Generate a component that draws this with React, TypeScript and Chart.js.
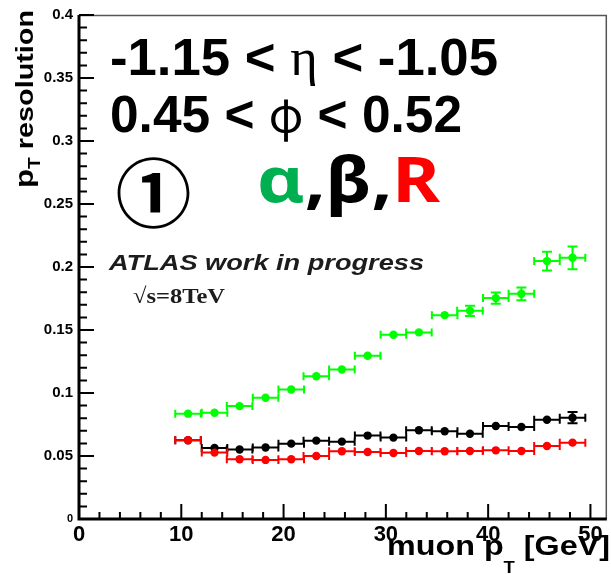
import React, { useEffect, useRef } from 'react';
import { Chart, registerables } from 'chart.js';

Chart.register(...registerables);

// ---- data ----
const binCenters = [10.66, 13.25, 15.7, 18.24, 20.75, 23.2, 25.7, 28.22, 30.74, 33.23, 35.75, 38.22, 40.75, 43.25, 45.75, 48.25];
const binHalfWidths = [1.25, 1.25, 1.25, 1.25, 1.25, 1.25, 1.25, 1.25, 1.25, 1.25, 1.25, 1.25, 1.25, 1.25, 1.25, 1.25];

const alphaRes = [0.0836, 0.0843, 0.0896, 0.0962, 0.1028, 0.1133, 0.1186, 0.1296, 0.1462, 0.1481, 0.1618, 0.1652, 0.1753, 0.1787, 0.2047, 0.2073];
const alphaErr = [0.002, 0.002, 0.002, 0.002, 0.002, 0.002, 0.002, 0.002, 0.0025, 0.0025, 0.003, 0.004, 0.0045, 0.005, 0.0075, 0.009];

const betaRes = [0.0625, 0.0563, 0.0551, 0.0567, 0.0598, 0.0622, 0.0614, 0.0662, 0.0646, 0.0704, 0.0696, 0.0677, 0.0738, 0.073, 0.0788, 0.0804];
const betaErr = [0.0015, 0.0015, 0.0015, 0.0015, 0.0015, 0.0015, 0.0015, 0.0015, 0.0015, 0.0015, 0.0015, 0.0015, 0.002, 0.002, 0.002, 0.0045];

const rRes = [0.0625, 0.0527, 0.0474, 0.0469, 0.0474, 0.05, 0.0538, 0.0532, 0.0524, 0.054, 0.0538, 0.054, 0.0545, 0.054, 0.0579, 0.0606];
const rErr = [0.0015, 0.0015, 0.0015, 0.0015, 0.0015, 0.0015, 0.0015, 0.0015, 0.0015, 0.0015, 0.0015, 0.0015, 0.0015, 0.0015, 0.002, 0.0025];

const xTickLabels = ['0', '10', '20', '30', '40', '50'];
const yTickLabels = ['0', '0.05', '0.1', '0.15', '0.2', '0.25', '0.3', '0.35', '0.4'];

const SANS = '"Liberation Sans", Arial, sans-serif';
const SERIF = '"Liberation Serif", "Times New Roman", serif';

type Seg = { t: string; font: string; color?: string; dy?: number };

function drawRich(ctx: CanvasRenderingContext2D, segs: Seg[], x: number, y: number, width: number, angle = 0) {
  ctx.save();
  let natural = 0;
  const widths = segs.map((s) => {
    ctx.font = s.font;
    const w = ctx.measureText(s.t).width;
    natural += w;
    return w;
  });
  ctx.translate(x, y);
  if (angle) ctx.rotate(angle);
  ctx.scale(width / natural, 1);
  ctx.textBaseline = 'alphabetic';
  ctx.textAlign = 'left';
  let cx = 0;
  segs.forEach((s, i) => {
    ctx.font = s.font;
    ctx.fillStyle = s.color || '#000';
    ctx.fillText(s.t, cx, s.dy || 0);
    cx += widths[i];
  });
  ctx.restore();
}

function drawInBox(ctx: CanvasRenderingContext2D, text: string, weight: string, family: string, x0: number, y0: number, x1: number, y1: number, color: string) {
  ctx.save();
  ctx.font = `${weight} 100px ${family}`;
  const m = ctx.measureText(text);
  const inkW = m.actualBoundingBoxLeft + m.actualBoundingBoxRight;
  const inkH = m.actualBoundingBoxAscent + m.actualBoundingBoxDescent;
  const sy = (y1 - y0) / inkH;
  const size = 100 * sy;
  const sx = (x1 - x0) / (inkW * sy);
  ctx.font = `${weight} ${size}px ${family}`;
  ctx.translate(x0, y0);
  ctx.scale(sx, 1);
  ctx.fillStyle = color;
  ctx.textBaseline = 'alphabetic';
  ctx.textAlign = 'left';
  ctx.fillText(text, m.actualBoundingBoxLeft * sy, m.actualBoundingBoxAscent * sy);
  ctx.restore();
}

const framePlugin = {
  id: 'frameTicks',
  beforeDatasetsDraw(chart: any) {
    const { ctx, chartArea: a, scales } = chart;
    const x = scales.x;
    const y = scales.y;
    ctx.save();
    // thin top / right frame
    ctx.strokeStyle = '#555';
    ctx.lineWidth = 1.5;
    ctx.beginPath();
    ctx.moveTo(a.left, a.top + 0.5);
    ctx.lineTo(a.right - 0.5, a.top + 0.5);
    ctx.lineTo(a.right - 0.5, a.bottom);
    ctx.stroke();
    // ticks
    ctx.strokeStyle = '#000';
    ctx.lineWidth = 2;
    ctx.beginPath();
    y.ticks.forEach((t: any) => {
      const py = y.getPixelForValue(t.value);
      const major = Math.round(t.value * 100) % 5 === 0;
      ctx.moveTo(a.left, py);
      ctx.lineTo(a.left + (major ? 15 : 8), py);
    });
    x.ticks.forEach((t: any) => {
      const px = x.getPixelForValue(t.value);
      const major = Math.round(t.value) % 10 === 0;
      ctx.moveTo(px, a.bottom);
      ctx.lineTo(px, a.bottom - (major ? 15 : 7));
    });
    ctx.stroke();
    // main axes
    ctx.lineWidth = 3;
    ctx.beginPath();
    ctx.moveTo(a.left, a.top);
    ctx.lineTo(a.left, a.bottom);
    ctx.lineTo(a.right, a.bottom);
    ctx.stroke();
    ctx.restore();
  },
};

const errorBarPlugin = {
  id: 'errorBars',
  beforeDatasetDraw(chart: any, args: any) {
    const ds = chart.data.datasets[args.index];
    const { ctx, scales } = chart;
    const x = scales.x;
    const y = scales.y;
    ctx.save();
    ctx.strokeStyle = ds.backgroundColor;
    ctx.lineWidth = 2;
    ctx.beginPath();
    ds.data.forEach((p: any) => {
      const px = x.getPixelForValue(p.x);
      const py = y.getPixelForValue(p.y);
      const x0 = x.getPixelForValue(p.x - p.xErr);
      const x1 = x.getPixelForValue(p.x + p.xErr);
      ctx.moveTo(x0, py);
      ctx.lineTo(x1, py);
      ctx.moveTo(x0, py - 4);
      ctx.lineTo(x0, py + 4);
      ctx.moveTo(x1, py - 4);
      ctx.lineTo(x1, py + 4);
      const y0 = y.getPixelForValue(p.y - p.yErr);
      const y1 = y.getPixelForValue(p.y + p.yErr);
      if (Math.abs(y1 - py) > 4.5) {
        ctx.moveTo(px, y0);
        ctx.lineTo(px, y1);
        ctx.moveTo(px - 5, y0);
        ctx.lineTo(px + 5, y0);
        ctx.moveTo(px - 5, y1);
        ctx.lineTo(px + 5, y1);
      }
    });
    ctx.stroke();
    ctx.restore();
  },
};

const textPlugin = {
  id: 'annotations',
  afterDraw(chart: any) {
    const ctx: CanvasRenderingContext2D = chart.ctx;
    const B52 = `bold 52px ${SANS}`;
    const G52 = `52px ${SERIF}`;
    const P52 = `46px "Noto Sans CJK JP", ${SANS}`;
    drawRich(ctx, [{ t: '-1.15 < ', font: B52 }, { t: 'η', font: G52 }, { t: ' < -1.05', font: B52 }], 110, 75, 388);
    drawRich(ctx, [{ t: '0.45 < ', font: B52 }, { t: 'φ', font: P52 }, { t: ' < 0.52', font: B52 }], 110, 132, 352);
    drawInBox(ctx, '①', 'bold', '"Noto Sans CJK SC"', 117, 157, 190, 228, '#000');
    const B62 = `bold 62px "Noto Sans", ${SANS}`;
    drawRich(ctx, [
      { t: 'α', font: B62, color: '#00b050' },
      { t: ',β,', font: B62, color: '#000' },
      { t: 'R', font: B62, color: '#ff0000' },
    ], 257, 202, 183);
    drawRich(ctx, [{ t: 'ATLAS work in progress', font: `italic bold 22px ${SANS}`, color: '#1c1c1c' }], 109, 270, 315);
    drawRich(ctx, [{ t: '√s=8TeV', font: `bold 22px ${SERIF}`, color: '#1c1c1c' }], 133, 303, 92);
    // axis titles
    drawRich(ctx, [
      { t: 'muon p', font: `bold 28px ${SANS}` },
      { t: 'T', font: `bold 16px ${SANS}`, dy: 18 },
      { t: ' [GeV]', font: `bold 28px ${SANS}` },
    ], 387, 555, 223);
    drawRich(ctx, [
      { t: 'p', font: `bold 26px ${SANS}` },
      { t: 'T', font: `bold 16px ${SANS}`, dy: 7 },
      { t: ' resolution', font: `bold 24px ${SANS}` },
    ], 33, 188, 178, -Math.PI / 2);
  },
};

function makePoints(vals: number[], errs: number[]) {
  return vals.map((v, i) => ({ x: binCenters[i], y: v, xErr: binHalfWidths[i], yErr: errs[i] }));
}

export default function App() {
  const ref = useRef<HTMLCanvasElement | null>(null);
  useEffect(() => {
    document.body.style.margin = '0';
    const canvas = ref.current!;
    const chart = new Chart(canvas, {
      type: 'scatter',
      data: {
        datasets: [
          { label: 'alpha', data: makePoints(alphaRes, alphaErr), backgroundColor: '#00ff00', pointRadius: 4.2, pointBorderWidth: 0, borderWidth: 0 } as any,
          { label: 'R', data: makePoints(rRes, rErr), backgroundColor: '#ff0000', pointRadius: 4.2, pointBorderWidth: 0, borderWidth: 0 } as any,
          { label: 'beta', data: makePoints(betaRes, betaErr), backgroundColor: '#000000', pointRadius: 4.2, pointBorderWidth: 0, borderWidth: 0 } as any,
        ],
      },
      options: {
        animation: false,
        responsive: false,
        devicePixelRatio: 1,
        layout: { padding: { top: 13, right: 3, left: 0, bottom: 0 } },
        plugins: { legend: { display: false }, tooltip: { enabled: false } },
        events: [],
        scales: {
          x: {
            type: 'linear',
            min: 0,
            max: 51.6,
            grid: { display: false, drawTicks: false },
            border: { display: false },
            afterFit: (s: any) => { s.height = 55; },
            ticks: {
              stepSize: 2,
              autoSkip: false,
              includeBounds: false,
              maxRotation: 0,
              padding: 3,
              color: '#000',
              font: { family: SANS, weight: 'bold', size: 22 },
              callback: (v: any) => {
                const idx = Math.round(v / 10);
                return Math.abs(v - idx * 10) < 1e-6 ? (xTickLabels[idx] ?? '') : '';
              },
            },
          },
          y: {
            type: 'linear',
            min: 0,
            max: 0.4,
            grid: { display: false, drawTicks: false },
            border: { display: false },
            afterFit: (s: any) => { s.width = 79; },
            ticks: {
              stepSize: 0.01,
              autoSkip: false,
              includeBounds: false,
              padding: 6,
              color: '#000',
              font: (c: any) => ({ family: SANS, weight: 'bold', size: c.tick && c.tick.value === 0 ? 11 : 15 }),
              callback: (v: any) => {
                const k = Math.round(v * 100);
                return k % 5 === 0 ? (yTickLabels[k / 5] ?? '') : '';
              },
            },
          },
        },
      } as any,
      plugins: [framePlugin, errorBarPlugin, textPlugin],
    });
    return () => chart.destroy();
  }, []);
  return (
    <div style={{ width: 611, height: 574, background: '#fff' }}>
      <canvas ref={ref} width={611} height={574} style={{ display: 'block' }} />
    </div>
  );
}
